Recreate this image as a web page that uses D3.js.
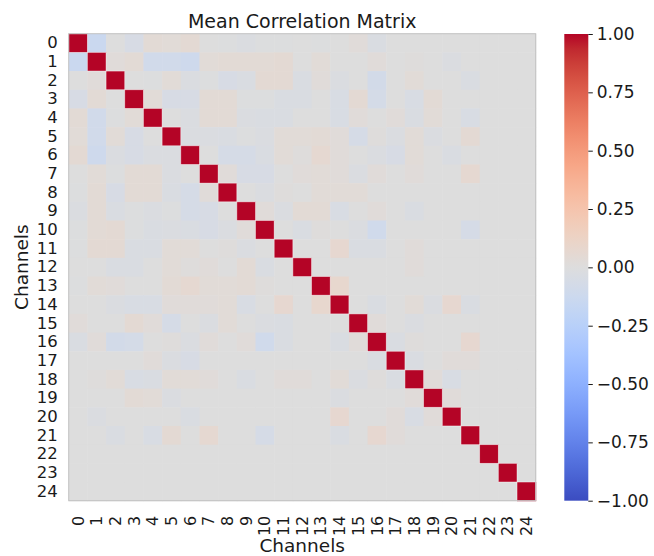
<!DOCTYPE html>
<html>
<head>
<meta charset="utf-8">
<script src="https://cdn.jsdelivr.net/npm/d3@7"></script>
<style>
  html, body { margin: 0; padding: 0; background: #ffffff; }
  svg { display: block; font-family: "DejaVu Sans", sans-serif; }
</style>
</head>
<body>
<svg id="chart" width="654" height="556"></svg>
<script>
// Channel labels (rows and columns of the matrix)
const channels = ["0","1","2","3","4","5","6","7","8","9","10","11","12","13","14","15","16","17","18","19","20","21","22","23","24"];

// Upper triangle of the mean correlation matrix: row i holds columns i+1 .. 24
const corrUpper = [
  [-0.14, 0, -0.05, 0.04, 0.03, 0.05, 0, -0.01, -0.02, -0.01, -0.01, 0, -0.01, 0, 0.02, -0.03, 0, 0, 0, 0, 0, 0, 0, 0],
  [0.02, 0.04, -0.09, -0.09, -0.11, 0.03, 0.04, 0.04, 0.04, 0.05, 0, 0.03, 0, 0, 0.02, 0, 0.01, 0, -0.02, 0, 0, 0, 0],
  [0, -0.01, 0.03, -0.02, -0.01, -0.05, -0.03, 0.05, 0.05, -0.03, 0.02, -0.02, 0, -0.08, 0, 0.03, 0, 0, -0.03, 0, 0, 0],
  [0.03, -0.05, -0.05, 0.04, 0.04, -0.01, -0.01, -0.03, -0.03, 0, -0.04, 0.05, -0.07, 0, -0.04, 0.04, 0, 0, 0, 0, 0],
  [0, -0.02, 0.04, 0.04, -0.02, -0.03, -0.03, 0, 0, -0.04, 0.02, 0, 0.02, -0.03, 0.03, 0, -0.04, 0, 0, 0],
  [-0.02, -0.02, -0.03, -0.01, -0.02, 0.03, 0.03, 0.04, 0.02, -0.06, 0.01, -0.02, 0.03, -0.02, 0, 0.05, 0, 0, 0],
  [0, -0.06, -0.06, -0.03, 0.03, 0.01, 0.06, 0.02, 0, -0.02, -0.05, 0.03, 0, -0.03, 0, 0, 0, 0],
  [0.02, -0.05, -0.05, 0, 0.02, 0.03, 0.02, -0.02, 0.02, 0, 0.02, 0, 0, 0.06, 0, 0, 0],
  [0, -0.02, 0.01, 0, 0.03, 0.03, 0.03, 0, 0, 0, 0, 0, 0, 0, 0, 0],
  [0.02, -0.02, 0.04, 0.04, -0.04, 0, 0.02, 0, -0.03, 0, 0, 0, 0, 0, 0],
  [0, -0.03, 0.01, 0, -0.02, -0.1, 0, 0, 0, 0, -0.06, 0, 0, 0],
  [0, 0, 0.07, -0.03, -0.03, 0, 0.02, 0, 0, 0, 0, 0, 0],
  [0, 0, 0, 0, 0, 0.02, 0, 0, 0, 0, 0, 0],
  [0.08, 0, 0, 0, 0, 0, 0, 0, 0, 0, 0],
  [0, -0.03, 0, 0.03, -0.02, 0.07, -0.03, 0, 0, 0],
  [0.02, 0, -0.02, 0, 0, 0, 0, 0, 0],
  [-0.03, 0.01, 0, 0, 0.07, 0, 0, 0],
  [-0.03, 0, 0.02, 0.02, 0, 0, 0],
  [0.02, -0.04, 0, 0, 0, 0],
  [0.02, 0, 0, 0, 0],
  [0, 0, 0, 0],
  [0, 0, 0],
  [0, 0],
  [0]
];

// Colour bar tick values
const cbarTicks = [-1, -0.75, -0.5, -0.25, 0, 0.25, 0.5, 0.75, 1];

// Cool-warm diverging colour map (Moreland), 33 stops from -1 to 1
const coolwarmStops = [
  [59,76,192],[68,90,204],[77,104,215],[87,117,225],[98,130,234],[108,142,241],
  [119,154,247],[130,165,251],[141,176,254],[152,185,255],[163,194,255],[174,201,253],
  [184,208,249],[194,213,244],[204,217,238],[213,219,230],[221,221,221],[229,216,209],
  [236,211,197],[241,204,185],[245,196,173],[247,187,160],[247,177,148],[247,166,135],
  [244,154,123],[241,141,111],[236,127,99],[229,112,88],[222,96,77],[213,80,66],
  [203,62,56],[192,40,47],[180,4,38]
];

// Build the full symmetric matrix as cell records
const n = channels.length;
const cells = [];
for (let i = 0; i < n; i++) {
  for (let j = 0; j < n; j++) {
    let v;
    if (i === j) v = 1;
    else if (j > i) v = corrUpper[i][j - i - 1];
    else v = corrUpper[j][i - j - 1];
    cells.push({ row: channels[i], col: channels[j], value: v, diag: i === j });
  }
}

const svg = d3.select("#chart");

const mLeft = 68.7, mTop = 33.7, side = 467;
const x = d3.scaleBand().domain(channels).range([mLeft, mLeft + side]).padding(0);
const y = d3.scaleBand().domain(channels).range([mTop, mTop + side]).padding(0);

const color = d3.scaleLinear()
  .domain(coolwarmStops.map((_, k) => -1 + 2 * k / (coolwarmStops.length - 1)))
  .range(coolwarmStops.map(c => d3.rgb(c[0], c[1], c[2])))
  .interpolate(d3.interpolateRgb)
  .clamp(true);

// Heatmap cells
svg.append("g")
  .selectAll("rect")
  .data(cells)
  .join("rect")
  .attr("x", d => x(d.col))
  .attr("y", d => y(d.row))
  .attr("width", x.bandwidth() + 0.5)
  .attr("height", y.bandwidth() + 0.5)
  .attr("fill", d => color(d.value));

// Light halo round the diagonal cells
svg.append("g")
  .selectAll("rect")
  .data(cells.filter(d => d.diag))
  .join("rect")
  .attr("x", d => x(d.col))
  .attr("y", d => y(d.row))
  .attr("width", x.bandwidth())
  .attr("height", y.bandwidth())
  .attr("fill", "none")
  .attr("stroke", "rgba(255,255,255,0.55)")
  .attr("stroke-width", 0.8);

// Thin frame round the matrix
svg.append("rect")
  .attr("x", mLeft).attr("y", mTop)
  .attr("width", side).attr("height", side)
  .attr("fill", "none")
  .attr("stroke", "#c2c2c2")
  .attr("stroke-width", 1);

// Y axis (channel labels)
const yAxis = svg.append("g")
  .attr("transform", `translate(${mLeft},0)`)
  .call(d3.axisLeft(y).tickSize(0).tickPadding(11));
yAxis.select(".domain").remove();
yAxis.selectAll("text")
  .attr("font-size", 16.5)
  .attr("font-family", "DejaVu Sans")
  .attr("fill", "#1a1a1a");

// X axis (rotated channel labels)
const xAxis = svg.append("g")
  .attr("transform", `translate(0,${mTop + side})`)
  .call(d3.axisBottom(x).tickSize(0));
xAxis.select(".domain").remove();
xAxis.selectAll("text")
  .attr("transform", "rotate(-90)")
  .attr("x", -15)
  .attr("y", 0)
  .attr("dy", "0.35em")
  .attr("text-anchor", "end")
  .attr("font-size", 16)
  .attr("font-family", "DejaVu Sans")
  .attr("fill", "#1a1a1a");

// Title and axis titles
svg.append("text")
  .attr("x", mLeft + side / 2).attr("y", 28.3)
  .attr("text-anchor", "middle")
  .attr("font-size", 19)
  .attr("fill", "#1a1a1a")
  .text("Mean Correlation Matrix");

svg.append("text")
  .attr("x", mLeft + side / 2).attr("y", 552)
  .attr("text-anchor", "middle")
  .attr("font-size", 18.5)
  .attr("fill", "#1a1a1a")
  .text("Channels");

svg.append("text")
  .attr("transform", `translate(28,${mTop + side / 2}) rotate(-90)`)
  .attr("text-anchor", "middle")
  .attr("font-size", 18.5)
  .attr("fill", "#1a1a1a")
  .text("Channels");

// Colour bar
const cbX = 564.3, cbW = 24, cbTop = 34, cbBottom = 500.7;
const cbScale = d3.scaleLinear().domain([-1, 1]).range([cbBottom, cbTop]);

const defs = svg.append("defs");
const grad = defs.append("linearGradient")
  .attr("id", "cbar-grad")
  .attr("x1", 0).attr("y1", 1).attr("x2", 0).attr("y2", 0);
grad.selectAll("stop")
  .data(coolwarmStops)
  .join("stop")
  .attr("offset", (_, k) => k / (coolwarmStops.length - 1))
  .attr("stop-color", c => d3.rgb(c[0], c[1], c[2]).formatHex());

svg.append("rect")
  .attr("x", cbX).attr("y", cbTop)
  .attr("width", cbW).attr("height", cbBottom - cbTop)
  .attr("fill", "url(#cbar-grad)");

const cbAxis = svg.append("g")
  .attr("transform", `translate(${cbX + cbW},0)`)
  .call(d3.axisRight(cbScale).tickValues(cbarTicks).tickFormat(d3.format(".2f")).tickSize(4.5).tickPadding(4));
cbAxis.select(".domain").remove();
cbAxis.selectAll("line").attr("stroke", "#1a1a1a").attr("stroke-width", 1);
cbAxis.selectAll("text")
  .attr("font-size", 17)
  .attr("font-family", "DejaVu Sans")
  .attr("fill", "#1a1a1a");
</script>
</body>
</html>
